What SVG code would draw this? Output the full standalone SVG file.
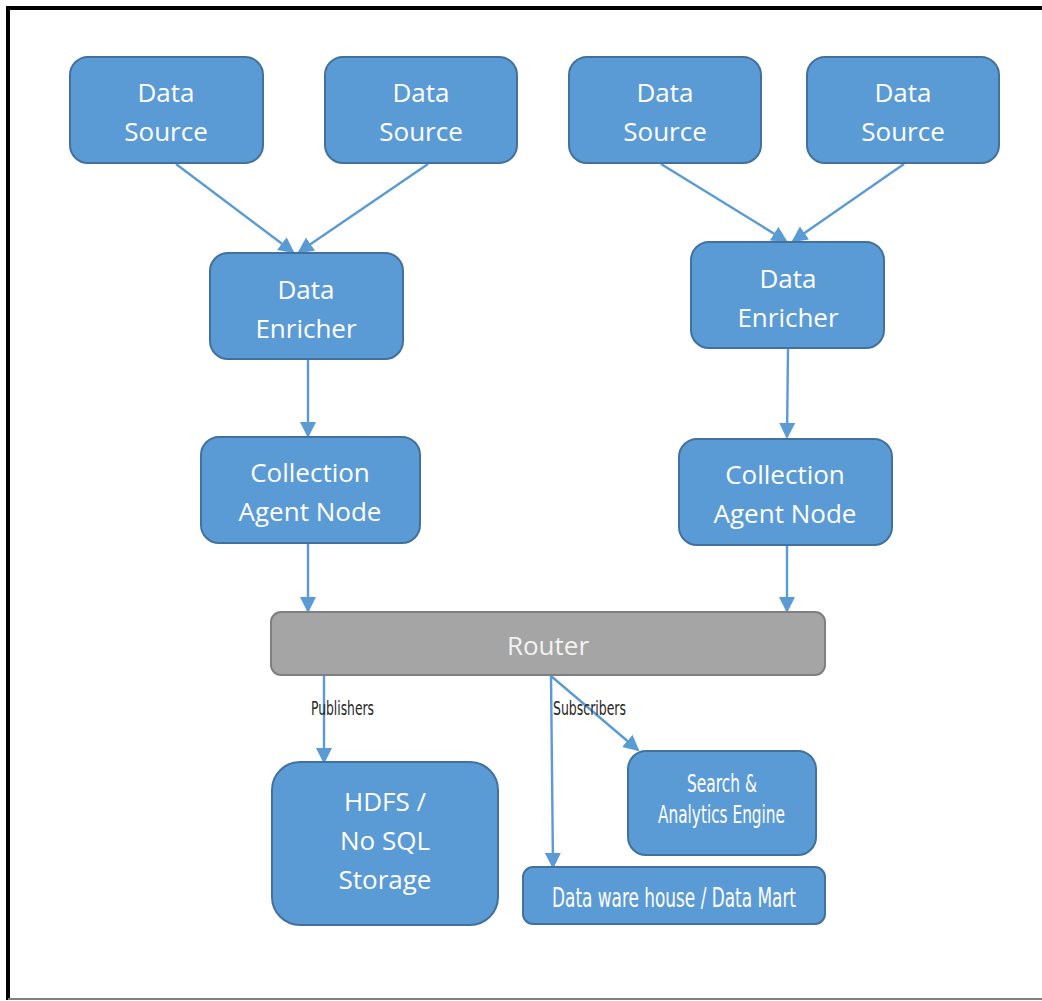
<svg xmlns="http://www.w3.org/2000/svg" width="1042" height="1001" viewBox="0 0 1042 1001">
<style>
.box{fill:#5b9bd5;stroke:#41719c;stroke-width:2}
.router{fill:#a5a5a5;stroke:#7f7f7f;stroke-width:2}
.t{font-family:"Open Sans","Noto Sans",sans-serif;font-size:26px;fill:#ffffff;text-anchor:middle}
.tr{font-family:"Open Sans","Noto Sans",sans-serif;font-size:26px;fill:#f2f2f2;text-anchor:middle}
.c{font-family:"DejaVu Sans Condensed","Liberation Sans Narrow","Liberation Sans",sans-serif;font-stretch:condensed;fill:#ffffff}
.lbl{font-family:"DejaVu Sans Condensed","Liberation Sans Narrow","Liberation Sans",sans-serif;font-stretch:condensed;font-size:19px;fill:#262626}
.conn line{stroke:#5b9bd5;stroke-width:2.4;fill:none;marker-end:url(#ah)}
</style>
<defs>
<marker id="ah" markerUnits="userSpaceOnUse" markerWidth="16" markerHeight="16" refX="14" refY="8" orient="auto" viewBox="0 0 16 16">
<path d="M0,0 L16,8 L0,16 z" fill="#5b9bd5"/>
</marker>
</defs>
<rect width="1042" height="1001" fill="#ffffff"/>
<g id="frame">
<line x1="6" y1="8" x2="1042" y2="8" stroke="#000" stroke-width="4"/>
<line x1="8" y1="6" x2="8" y2="1000" stroke="#000" stroke-width="4"/>
<line x1="8" y1="999" x2="1042" y2="999" stroke="#808080" stroke-width="2"/>
</g>
<g id="connectors" class="conn">
<line x1="176" y1="164" x2="293" y2="252"/>
<line x1="428" y1="164" x2="299" y2="252"/>
<line x1="661" y1="164" x2="786" y2="241"/>
<line x1="904" y1="164" x2="793" y2="241"/>
<line x1="308" y1="360" x2="308" y2="436"/>
<line x1="788" y1="349" x2="787" y2="437"/>
<line x1="308" y1="544" x2="308" y2="611"/>
<line x1="787" y1="546" x2="787" y2="611"/>
<line x1="324" y1="676" x2="324" y2="762"/>
<line x1="551" y1="676" x2="553" y2="867"/>
<line x1="551" y1="676" x2="638" y2="750"/>
</g>
<g id="ds1"><rect class="box" x="70" y="57" width="193" height="106" rx="18"/><text class="t" x="166" y="102">Data</text><text class="t" x="166" y="141">Source</text></g>
<g id="ds2"><rect class="box" x="325" y="57" width="192" height="106" rx="18"/><text class="t" x="421" y="102">Data</text><text class="t" x="421" y="141">Source</text></g>
<g id="ds3"><rect class="box" x="569" y="57" width="192" height="106" rx="18"/><text class="t" x="665" y="102">Data</text><text class="t" x="665" y="141">Source</text></g>
<g id="ds4"><rect class="box" x="807" y="57" width="192" height="106" rx="18"/><text class="t" x="903" y="102">Data</text><text class="t" x="903" y="141">Source</text></g>
<g id="enricher1"><rect class="box" x="210" y="253" width="193" height="106" rx="18"/><text class="t" x="306" y="299">Data</text><text class="t" x="306" y="338">Enricher</text></g>
<g id="enricher2"><rect class="box" x="691" y="242" width="193" height="106" rx="18"/><text class="t" x="788" y="288">Data</text><text class="t" x="788" y="327">Enricher</text></g>
<g id="agent1"><rect class="box" x="201" y="437" width="219" height="106" rx="18"/><text class="t" x="310" y="482">Collection</text><text class="t" x="310" y="521">Agent Node</text></g>
<g id="agent2"><rect class="box" x="679" y="439" width="213" height="106" rx="18"/><text class="t" x="785" y="484">Collection</text><text class="t" x="785" y="523">Agent Node</text></g>
<g id="router"><rect class="router" x="271" y="612" width="554" height="63" rx="10"/><text class="tr" x="548" y="655">Router</text></g>
<g id="hdfs"><rect class="box" x="272" y="762" width="226" height="163" rx="28"/><text class="t" x="385" y="811">HDFS /</text><text class="t" x="385" y="850">No SQL</text><text class="t" x="385" y="889">Storage</text></g>
<g id="search"><rect class="box" x="628" y="751" width="188" height="104" rx="18"/><text class="c" font-size="25" x="687" y="792" textLength="70" lengthAdjust="spacingAndGlyphs">Search &amp;</text><text class="c" font-size="25" x="658" y="823" textLength="127" lengthAdjust="spacingAndGlyphs">Analytics  Engine</text></g>
<g id="dwh"><rect class="box" x="523" y="867" width="302" height="57" rx="10"/><text class="c" font-size="27" x="552" y="907" textLength="244" lengthAdjust="spacingAndGlyphs">Data ware house / Data Mart</text></g>
<g id="labels">
<text class="lbl" x="311" y="715" textLength="63" lengthAdjust="spacingAndGlyphs">Publishers</text>
<text class="lbl" x="553" y="715" textLength="73" lengthAdjust="spacingAndGlyphs">Subscribers</text>
</g>
</svg>
